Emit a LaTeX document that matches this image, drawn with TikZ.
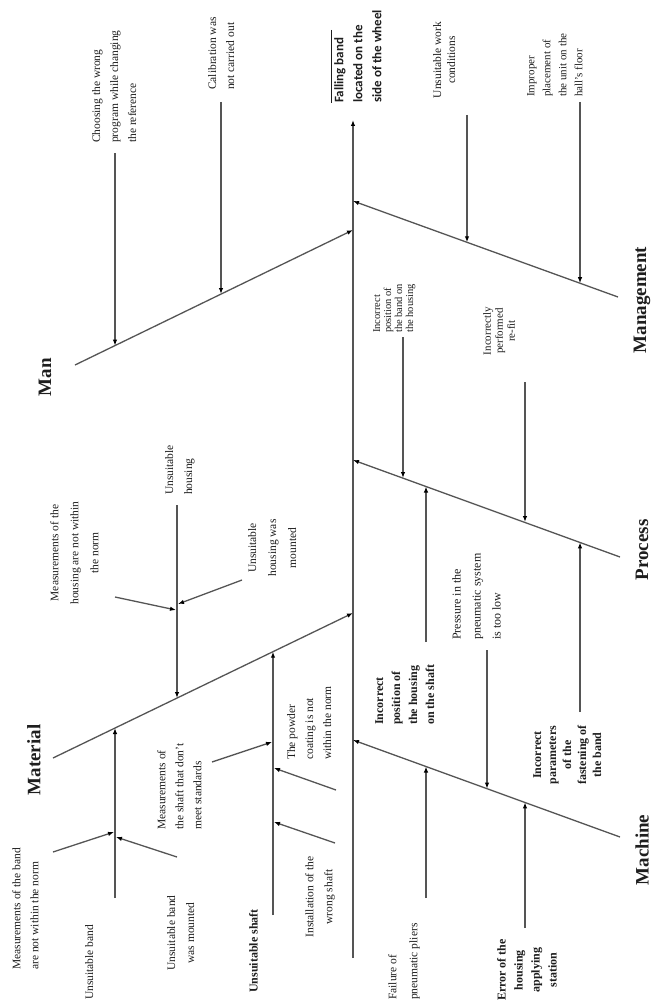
\documentclass[tikz,border=0pt]{standalone}
\usepackage{fontspec}
\setmainfont{Liberation Serif}
\newfontfamily\carlito{Carlito}
\usetikzlibrary{arrows.meta}
\definecolor{linegray}{RGB}{85,85,85}
\definecolor{txtcol}{RGB}{30,30,30}
\tikzset{
  txt/.style={rotate=90, inner sep=0pt, text=txtcol, font=\fontsize{11.5}{18}\selectfont},
  tl/.style={txt, align=left, anchor=north west},
  tc/.style={txt, align=center, anchor=north},
  cat/.style={rotate=90, inner sep=0pt, anchor=center, text=txtcol, font=\bfseries\fontsize{19}{22}\selectfont},
  bone/.style={draw=linegray, line width=1.3pt},
  arr/.style={bone, -{Latex[length=6pt,width=4.5pt,color=black]}}
}
\begin{document}
\begin{tikzpicture}[x=1pt,y=-1pt]
\useasboundingbox[fill=white] (0,0) rectangle (652,1006);

% ---------- spine and effect ----------
\coordinate (spB) at (353,958);
\coordinate (spT) at (353,120);
\draw[arr] (spB) -- (spT);
\node[rotate=90, inner sep=0pt, anchor=north west, align=left, text=txtcol,
      font=\carlito\bfseries\fontsize{13}{19}\selectfont] (effect) at (334,103)
  {Falling band\\located on the\\side of the wheel};
\coordinate (ulA) at (331,30);
\coordinate (ulB) at (331,103);
\draw[txtcol, line width=0.8pt] (ulA) -- (ulB);

% ---------- Man ----------
\coordinate (manS) at (75,365);
\coordinate (manE) at (353,230);
\draw[arr] (manS) -- (manE);
\node[cat] (man) at (45,377) {Man};
\node[tl] (m1) at (92,143) {Choosing the wrong\\program while changing\\the reference};
\coordinate (m1s) at (115,153); \coordinate (m1e) at (115,345.6);
\draw[arr] (m1s) -- (m1e);
\node[tl] (m2) at (208,90) {Calibration was\\not carried out};
\coordinate (m2s) at (221,102); \coordinate (m2e) at (221,294);
\draw[arr] (m2s) -- (m2e);

% ---------- Management ----------
\coordinate (mgS) at (618,297);
\coordinate (mgE) at (353,201);
\draw[arr] (mgS) -- (mgE);
\node[cat] (mgmt) at (642,300) {Management};
\node[tc, font=\fontsize{11.5}{14}\selectfont] (g1) at (433,60) {Unsuitable work\\conditions};
\coordinate (g1s) at (467,115); \coordinate (g1e) at (467,242.3);
\draw[arr] (g1s) -- (g1e);
\node[tl, font=\fontsize{11}{16}\selectfont] (g2) at (527,97) {Improper\\placement of\\the unit on the\\hall's floor};
\coordinate (g2s) at (580,102); \coordinate (g2e) at (580,283.2);
\draw[arr] (g2s) -- (g2e);

% ---------- Process ----------
\coordinate (prS) at (620,557);
\coordinate (prE) at (353,460);
\draw[arr] (prS) -- (prE);
\node[cat] (process) at (642,550) {Process};
\node[tl, font=\fontsize{10.5}{11}\selectfont] (p1) at (373,333) {Incorrect\\position of\\the band on\\the housing};
\coordinate (p1s) at (403,337); \coordinate (p1e) at (403,478);
\draw[arr] (p1s) -- (p1e);
\node[tc, font=\fontsize{11}{12}\selectfont] (p2) at (483,331) {Incorrectly\\performed\\re-fit};
\coordinate (p2s) at (525,382); \coordinate (p2e) at (525,522);
\draw[arr] (p2s) -- (p2e);
\node[tl, font=\bfseries\fontsize{12}{17}\selectfont] (p3) at (375,725) {Incorrect\\position of\\the housing\\on the shaft};
\coordinate (p3s) at (426,642); \coordinate (p3e) at (426,486.5);
\draw[arr] (p3s) -- (p3e);
\node[tc, font=\bfseries\fontsize{12}{15}\selectfont] (p4) at (533,755) {Incorrect\\parameters\\of the\\fastening of\\the band};
\coordinate (p4s) at (580,712); \coordinate (p4e) at (580,542.4);
\draw[arr] (p4s) -- (p4e);

% ---------- Machine ----------
\coordinate (maS) at (620,837);
\coordinate (maE) at (353,740);
\draw[arr] (maS) -- (maE);
\node[cat] (machine) at (642,850) {Machine};
\node[tl, font=\fontsize{12}{20}\selectfont] (c1) at (452,640) {Pressure in the\\pneumatic system\\is too low};
\coordinate (c1s) at (487,650); \coordinate (c1e) at (487,788.6);
\draw[arr] (c1s) -- (c1e);
\node[tl, font=\fontsize{11.5}{21}\selectfont] (c2) at (388,1000) {Failure of\\pneumatic pliers};
\coordinate (c2s) at (426,898); \coordinate (c2e) at (426,766.5);
\draw[arr] (c2s) -- (c2e);
\node[tc, font=\bfseries\fontsize{12}{17}\selectfont] (c3) at (497,970) {Error of the\\housing\\applying\\station};
\coordinate (c3s) at (525,928); \coordinate (c3e) at (525,802.4);
\draw[arr] (c3s) -- (c3e);

% ---------- Material ----------
\coordinate (mtS) at (53,758);
\coordinate (mtE) at (353,613);
\draw[arr] (mtS) -- (mtE);
\node[cat] (material) at (34,760) {Material};

% housing sub-branch
\coordinate (hS) at (177,505); \coordinate (hE) at (177,698);
\draw[arr] (hS) -- (hE);
\node[tl, font=\fontsize{11.5}{19}\selectfont] (h0) at (165,495) {Unsuitable\\housing};
\node[tc, font=\fontsize{11.5}{20}\selectfont] (h1) at (50,553) {Measurements of the\\housing are not within\\the norm};
\coordinate (h1s) at (115,597); \coordinate (h1e) at (176,610);
\draw[arr] (h1s) -- (h1e);
\node[tc, font=\fontsize{11.5}{20}\selectfont] (h2) at (248,548) {Unsuitable\\housing was\\mounted};
\coordinate (h2s) at (242,580); \coordinate (h2e) at (178,604);
\draw[arr] (h2s) -- (h2e);

% band sub-branch
\coordinate (bS) at (115,898); \coordinate (bE) at (115,728);
\draw[arr] (bS) -- (bE);
\node[tl] (b0) at (85,1000) {Unsuitable band};
\node[tl, font=\fontsize{11.5}{18}\selectfont] (b1) at (12,970) {Measurements of the band\\are not within the norm};
\coordinate (b1s) at (53,852); \coordinate (b1e) at (114,832);
\draw[arr] (b1s) -- (b1e);
\node[tc, font=\fontsize{11.5}{19}\selectfont] (b2) at (167,933) {Unsuitable band\\was mounted};
\coordinate (b2s) at (177,857); \coordinate (b2e) at (116,837);
\draw[arr] (b2s) -- (b2e);

% shaft sub-branch
\coordinate (sS) at (273,915); \coordinate (sE) at (273,651.7);
\draw[arr] (sS) -- (sE);
\node[tl, font=\bfseries\fontsize{12}{14}\selectfont] (s0) at (249,993) {Unsuitable shaft};
\node[tl, font=\fontsize{11.5}{18}\selectfont] (s1) at (157,830) {Measurements of\\the shaft that don't\\meet standards};
\coordinate (s1s) at (212,762); \coordinate (s1e) at (272,742);
\draw[arr] (s1s) -- (s1e);
\node[tl, font=\fontsize{11.5}{18}\selectfont] (s2) at (287,760) {The powder\\coating is not\\within the norm};
\coordinate (s2s) at (336,790); \coordinate (s2e) at (274,768);
\draw[arr] (s2s) -- (s2e);
\node[tc, font=\fontsize{11.5}{19}\selectfont] (s3) at (305,897) {Installation of the\\wrong shaft};
\coordinate (s3s) at (335,843); \coordinate (s3e) at (274,822);
\draw[arr] (s3s) -- (s3e);
\end{tikzpicture}
\end{document}
